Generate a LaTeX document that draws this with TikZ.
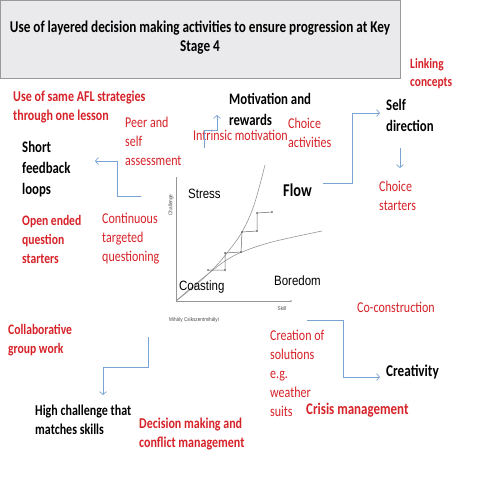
\documentclass[tikz,border=0pt]{standalone}
\usepackage{fontspec}
\setmainfont{Carlito}[FakeStretch=0.8]
\newfontfamily\chartfont{Liberation Sans}[FakeStretch=0.85]
\usetikzlibrary{arrows.meta}
\definecolor{txtred}{RGB}{214,34,40}
\definecolor{linkblue}{RGB}{120,163,210}
\definecolor{boxgray}{RGB}{234,234,236}
\definecolor{chartgray}{RGB}{150,150,150}
\tikzset{
  lbl/.style={inner sep=0pt, anchor=west, align=left},
  blk/.style={lbl, font=\bfseries\fontsize{16}{21}\selectfont},
  redb/.style={lbl, text=txtred, font=\bfseries\fontsize{14.5}{19}\selectfont},
  redn/.style={lbl, text=txtred, font=\fontsize{15}{19}\selectfont},
  chartlbl/.style={lbl, font=\chartfont\fontsize{13.5}{16}\selectfont},
  tiny/.style={inner sep=0pt, font=\chartfont\fontsize{5.5}{6}\selectfont, text=black!70},
  link/.style={draw=linkblue, line width=0.7pt, -{Straight Barb[length=3pt,width=7pt]}},
}
\begin{document}
\begin{tikzpicture}[x=1pt,y=-1pt]
  \useasboundingbox (0,0) rectangle (480,480);
  \fill[white] (0,0) rectangle (480,480);
  % title box
  \draw[fill=boxgray, draw=black!40] (0.5,0.5) rectangle (400,78);
  \node[inner sep=0pt, align=center, font=\bfseries\fontsize{16.5}{19.5}\selectfont] (title) at (200,37.5)
    {Use of layered decision making activities to ensure progression at Key\\Stage 4};

  % labels
  \node[redb, font=\bfseries\fontsize{14.2}{18}\selectfont] (linking) at (410,74) {Linking\\concepts};
  \node[redb, font=\bfseries\fontsize{15}{19}\selectfont] (afl) at (13,107.5) {Use of same AFL strategies\\through one lesson};
  \node[blk] (motiv) at (229,109.5) {Motivation and\\rewards};
  \node[blk] (selfdir) at (386,115) {Self\\direction};
  \node[redn] (peer) at (125,141) {Peer and\\self\\assessment};
  \node[redn] (intrinsic) at (193,135) {Intrinsic motivation};
  \node[redn] (choiceact) at (288,132.5) {Choice\\activities};
  \node[blk] (shortfb) at (22,169.5) {Short\\feedback\\loops};
  \node[blk, font=\bfseries\fontsize{18}{21}\selectfont] (flow) at (283,190) {Flow};
  \node[redn] (choicest) at (379,195.5) {Choice\\starters};
  \node[redb] (openq) at (22,239) {Open ended\\question\\starters};
  \node[redn] (contq) at (102,239) {Continuous\\targeted\\questioning};
  \node[redn] (cocon) at (357,307) {Co-construction};
  \node[redb] (collab) at (8,340.5) {Collaborative\\group work};
  \node[redn] (creation) at (270,373) {Creation of\\solutions\\e.g.\\weather\\suits};
  \node[blk, font=\bfseries\fontsize{16.5}{21}\selectfont] (creativity) at (386,372) {Creativity};
  \node[redb, font=\bfseries\fontsize{16.2}{19}\selectfont] (crisis) at (306,410) {Crisis management};
  \node[blk, font=\bfseries\fontsize{15}{19}\selectfont] (highch) at (35,419.5) {High challenge that\\matches skills};
  \node[redb, font=\bfseries\fontsize{15}{19}\selectfont] (decision) at (139,434.5) {Decision making and\\conflict management};

  % flow chart
  \begin{scope}[chartgray, line width=0.6pt]
    \draw (176,177) -- (176,301) -- (291,301);
    \fill (291,301) circle (0.9);
    \draw plot[smooth, tension=0.6] coordinates {(176,301) (197,284) (215,267) (227,253) (242,232) (254,205) (265,165)};
    \draw plot[smooth, tension=0.6] coordinates {(176,301) (192,287) (208,274) (225,261) (242,252) (272,242) (322,231)};
  \end{scope}
  \draw[black!60, line width=0.5pt] (208,270) -| (225,253) -- (241,252) -- (242,232) -- (257,231) -- (257,213) -- (272,212);
  \foreach \p in {(208,270),(225,270),(225,253),(241,252),(242,232),(257,231),(257,213),(272,212)}
    \fill[black!70] \p circle (0.9);
  \node[chartlbl] (stress) at (188,194) {Stress};
  \node[chartlbl] (coasting) at (179,287) {Coasting};
  \node[chartlbl] (boredom) at (274,281) {Boredom};
  \node[tiny, rotate=90] (challenge) at (171,205) {Challenge};
  \node[tiny] (skill) at (282,309) {Skill};
  \node[tiny, anchor=west] (author) at (169,320) {Mihály Csikszentmihályi};

  % connectors
  \coordinate (fbstart) at (141,196);
  \coordinate (fbend) at (95,161);
  \coordinate (imstart) at (204,148);
  \coordinate (imend) at (217,115);
  \coordinate (flowstart) at (323,183);
  \coordinate (sdend) at (380,113);
  \coordinate (sdstart) at (400,148);
  \coordinate (csend) at (400,168);
  \coordinate (cgstart) at (148,337);
  \coordinate (cgend) at (103,395);
  \coordinate (crstart) at (307,320);
  \coordinate (crend) at (380,377);
  \begin{scope}
    \draw[link] (fbstart) -- (117,196) -- (117,161) -- (fbend);
    \draw[link] (imstart) -- (204,130) -- (217,130) -- (imend);
    \draw[link] (flowstart) -- (352,183) -- (352,113) -- (sdend);
    \draw[link] (sdstart) -- (csend);
    \draw[link] (cgstart) -- (148,367) -- (103,367) -- (cgend);
    \draw[link] (crstart) -- (343,320) -- (343,377) -- (crend);
  \end{scope}
\end{tikzpicture}
\end{document}
